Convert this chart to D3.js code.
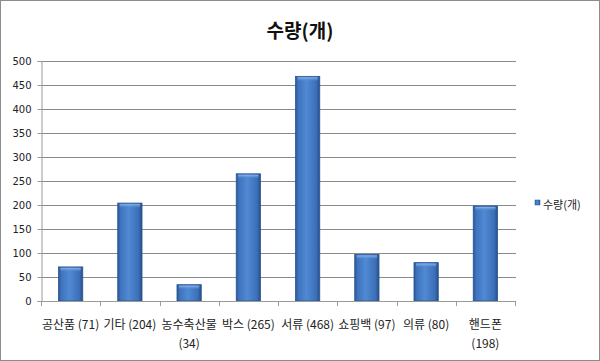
<!DOCTYPE html>
<html>
<head>
<meta charset="utf-8">
<script src="https://cdn.jsdelivr.net/npm/d3@7"></script>
<style>
  body { margin: 0; background: #fff; }
  svg { display: block; font-family: "Noto Sans CJK KR", "Noto Sans", sans-serif; }
</style>
</head>
<body>
<svg width="600" height="361"></svg>
<script>
// Data

const categories = ["공산품", "기타", "농수축산물", "박스", "서류", "쇼핑백", "의류", "핸드폰"];
const values = [71, 204, 34, 265, 468, 97, 80, 198];
const yTicks = [0, 50, 100, 150, 200, 250, 300, 350, 400, 450, 500];
const seriesName = "수량(개)";

// Layout

const svg = d3.select("svg");
const plotLeft = 41, plotRight = 515, plotTop = 61, plotBottom = 301;

svg.append("rect")
    .attr("x", 0.5).attr("y", 0.5)
    .attr("width", 599).attr("height", 360)
    .attr("fill", "#fff").attr("stroke", "#8c8c8c");

const x = d3.scaleBand()
    .domain(categories)
    .range([plotLeft, plotRight])
    .paddingInner(0.59)
    .paddingOuter(0.295);

const y = d3.scaleLinear()
    .domain([0, 500])
    .range([plotBottom, plotTop]);

// gradient for the bars
const defs = svg.append("defs");
const grad = defs.append("linearGradient").attr("id", "barGrad")
    .attr("x1", "0%").attr("x2", "100%").attr("y1", "0%").attr("y2", "0%");
grad.append("stop").attr("offset", "0%").attr("stop-color", "#2b5797");
grad.append("stop").attr("offset", "12%").attr("stop-color", "#3f73bd");
grad.append("stop").attr("offset", "45%").attr("stop-color", "#5089d4");
grad.append("stop").attr("offset", "85%").attr("stop-color", "#3c70b8");
grad.append("stop").attr("offset", "100%").attr("stop-color", "#24508c");

const capGrad = defs.append("linearGradient").attr("id", "capGrad")
    .attr("x1", "0%").attr("x2", "0%").attr("y1", "0%").attr("y2", "100%");
capGrad.append("stop").attr("offset", "0%").attr("stop-color", "#8fb4e8");
capGrad.append("stop").attr("offset", "100%").attr("stop-color", "#5089d4").attr("stop-opacity", 0);

// Gridlines
svg.append("g")
    .selectAll("line")
    .data(yTicks.filter(d => d > 0))
    .enter().append("line")
    .attr("x1", plotLeft).attr("x2", plotRight + 1)
    .attr("y1", d => Math.round(y(d)) + 0.5)
    .attr("y2", d => Math.round(y(d)) + 0.5)
    .attr("stroke", "#8a8a8a");

// Y axis
const yAxis = svg.append("g")
    .attr("transform", `translate(${plotLeft + 0.5},0)`)
    .call(d3.axisLeft(y).tickValues(yTicks).tickSize(4).tickPadding(6));
yAxis.select(".domain").attr("stroke", "#9a9a9a");
yAxis.selectAll(".tick line").attr("stroke", "#9a9a9a");
yAxis.selectAll("text").attr("font-size", 10).attr("fill", "#222")
    .attr("font-family", "DejaVu Sans, sans-serif");

// Bars
const bars = svg.append("g").selectAll("g")
    .data(values)
    .enter().append("g");

bars.append("rect")
    .attr("x", (d, i) => x(categories[i]))
    .attr("y", d => y(d))
    .attr("width", x.bandwidth())
    .attr("height", d => y(0) - y(d))
    .attr("fill", "url(#barGrad)")
    .attr("stroke", "#2a5590")
    .attr("stroke-width", 0.8);

bars.append("rect")
    .attr("x", (d, i) => x(categories[i]) + 2)
    .attr("y", d => y(d) + 1)
    .attr("width", x.bandwidth() - 4)
    .attr("height", 4)
    .attr("fill", "url(#capGrad)");

// X axis
const step = x.step();
const xAxisG = svg.append("g");
xAxisG.append("line")
    .attr("x1", plotLeft).attr("x2", plotRight + 1)
    .attr("y1", plotBottom + 0.5).attr("y2", plotBottom + 0.5)
    .attr("stroke", "#9a9a9a");
xAxisG.selectAll(".xt")
    .data(d3.range(categories.length + 1))
    .enter().append("line")
    .attr("x1", i => Math.round(plotLeft + i * step) + 0.5)
    .attr("x2", i => Math.round(plotLeft + i * step) + 0.5)
    .attr("y1", plotBottom).attr("y2", plotBottom + 5)
    .attr("stroke", "#9a9a9a");

// Category labels
const wrapAt = ["농수축산물", "핸드폰"];
const labels = svg.append("g").selectAll("text")
    .data(categories)
    .enter().append("text")
    .attr("x", d => x(d) + x.bandwidth() / 2)
    .attr("y", 329)
    .attr("text-anchor", "middle")
    .attr("font-size", 12)
    .attr("fill", "#222");

labels.each(function (d, i) {
    const t = d3.select(this);
    const v = `(${values[i]})`;
    if (wrapAt.includes(d)) {
        t.append("tspan").attr("x", x(d) + x.bandwidth() / 2).text(d);
        t.append("tspan").attr("x", x(d) + x.bandwidth() / 2).attr("dy", 19).text(v);
    } else {
        t.text(`${d} ${v}`);
    }
});

// Title
svg.append("text")
    .attr("x", 300).attr("y", 38)
    .attr("text-anchor", "middle")
    .attr("font-size", 19)
    .attr("font-weight", "bold")
    .attr("fill", "#111")
    .text(seriesName);

// Legend
const legend = svg.append("g").attr("transform", "translate(535,200)");
legend.append("rect")
    .attr("x", 0).attr("y", 0).attr("width", 5).attr("height", 5)
    .attr("fill", "url(#barGrad)").attr("stroke", "#2a5590").attr("stroke-width", 0.5);
legend.append("text")
    .attr("x", 8).attr("y", 9)
    .attr("font-size", 11)
    .attr("fill", "#222")
    .text(seriesName);
</script>
</body>
</html>
